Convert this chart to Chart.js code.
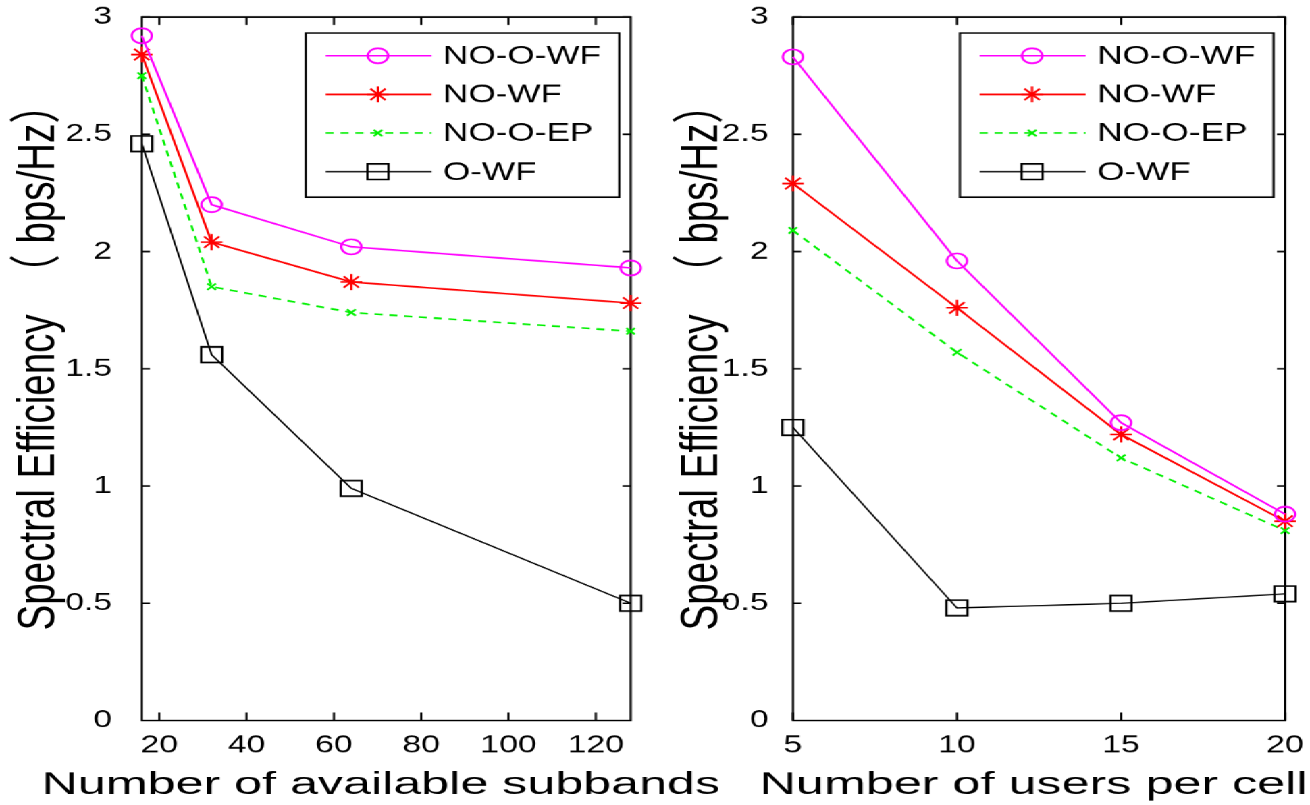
<!DOCTYPE html>
<html lang="en">
<head>
    <meta charset="UTF-8">
    <title>Spectral Efficiency</title>
    <script src="https://cdn.jsdelivr.net/npm/chart.js"></script>
    <style>
      html, body {
        margin: 0;
        padding: 0;
        background: #fff;
        overflow: hidden;
      }
      /* the source figure is stretched sideways, so the whole row is too */
      #row {
        position: relative;
        width: 970px;
        height: 805px;
        transform: scaleX(1.3505);
        transform-origin: 0 0;
      }
      canvas {
        display: block;
        position: absolute;
        top: 0;
      }
    </style>
</head>
<body>
    <div id="row">
        <canvas id="left" width="560" height="805" style="left:0;width:560px;height:805px"></canvas>
        <canvas id="right" width="485" height="805" style="left:485px;width:485px;height:805px"></canvas>
    </div>

    <script>
    const seriesNames = ['NO-O-WF', 'NO-WF', 'NO-O-EP', 'O-WF'];

    // left panel: number of available subbands
    const subbands = [16, 32, 64, 128];
    const subbandTicks = [20, 40, 60, 80, 100, 120];
    const sbNoOWF = [2.92, 2.20, 2.02, 1.93];
    const sbNoWF = [2.84, 2.04, 1.87, 1.78];
    const sbNoOEP = [2.75, 1.85, 1.74, 1.66];
    const sbOWF = [2.46, 1.56, 0.99, 0.50];

    // right panel: number of users per cell
    const users = [5, 10, 15, 20];
    const userTicks = [5, 10, 15, 20];
    const uNoOWF = [2.83, 1.96, 1.27, 0.88];
    const uNoWF = [2.29, 1.76, 1.22, 0.85];
    const uNoOEP = [2.09, 1.57, 1.12, 0.81];
    const uOWF = [1.25, 0.48, 0.50, 0.54];

    const effTicks = [0, 0.5, 1, 1.5, 2, 2.5, 3];
    const yTitle = 'Spectral Efficiency  （ bps/Hz）';

    const FONT = "'Liberation Sans', Arial, 'Noto Sans CJK SC', sans-serif";

    const styles = [
        { color: '#ff00ff', pointStyle: 'circle', radius: 7.5, dash: [] },
        { color: '#ff0000', pointStyle: 'star', radius: 8, dash: [] },
        { color: '#00f000', pointStyle: 'crossRot', radius: 4.5, dash: [6, 5] },
        { color: '#000000', pointStyle: 'rect', radius: 11, dash: [] }
    ];

    function makeDatasets(xs, lists) {
        return lists.map((vals, i) => ({
            label: seriesNames[i],
            data: xs.map((x, k) => ({ x: x, y: vals[k] })),
            borderColor: styles[i].color,
            backgroundColor: 'transparent',
            borderWidth: i === 3 ? 1.3 : 1.7,
            borderDash: styles[i].dash,
            pointStyle: styles[i].pointStyle,
            pointRadius: styles[i].radius,
            pointHoverRadius: styles[i].radius,
            pointBorderWidth: 1.7,
            pointBorderColor: styles[i].color,
            pointBackgroundColor: 'transparent',
            tension: 0,
            clip: false
        }));
    }

    // matlab style box with inward ticks on all four sides
    const boxPlugin = {
        id: 'matlabBox',
        beforeDatasetsDraw(chart) {
            const { ctx, chartArea: a, scales: { x, y } } = chart;
            ctx.save();
            ctx.strokeStyle = '#000';
            ctx.lineWidth = 1.6;
            ctx.strokeRect(a.left, a.top, a.right - a.left, a.bottom - a.top);
            ctx.beginPath();
            x.ticks.forEach(t => {
                const px = x.getPixelForValue(t.value);
                ctx.moveTo(px, a.bottom); ctx.lineTo(px, a.bottom - 8);
                ctx.moveTo(px, a.top); ctx.lineTo(px, a.top + 8);
            });
            y.ticks.forEach(t => {
                const py = y.getPixelForValue(t.value);
                ctx.moveTo(a.left, py); ctx.lineTo(a.left + 6, py);
                ctx.moveTo(a.right, py); ctx.lineTo(a.right - 6, py);
            });
            ctx.stroke();
            ctx.restore();
        }
    };

    // boxed legend with line sample and marker, top right
    const legendPlugin = {
        id: 'boxLegend',
        afterDraw(chart) {
            const { ctx, chartArea: a } = chart;
            const w = 232, h = 164;
            const bx = a.right - 8.5 - w, by = a.top + 16;
            ctx.save();
            ctx.fillStyle = '#fff';
            ctx.fillRect(bx, by, w, h);
            ctx.strokeStyle = '#000';
            ctx.lineWidth = 1.6;
            ctx.strokeRect(bx, by, w, h);
            chart.data.datasets.forEach((ds, i) => {
                const ly = by + 22.7 + i * 38.6;
                ctx.strokeStyle = ds.borderColor;
                ctx.lineWidth = ds.borderWidth;
                ctx.setLineDash(ds.borderDash);
                ctx.beginPath();
                ctx.moveTo(bx + 14.6, ly);
                ctx.lineTo(bx + 93, ly);
                ctx.stroke();
                ctx.setLineDash([]);
                ctx.lineWidth = ds.pointBorderWidth;
                ctx.fillStyle = 'rgba(0,0,0,0)';
                Chart.helpers.drawPoint(ctx, {
                    pointStyle: ds.pointStyle,
                    radius: ds.pointRadius,
                    rotation: 0,
                    borderWidth: ds.pointBorderWidth
                }, bx + 53.4, ly);
                ctx.fillStyle = '#000';
                ctx.font = '26px ' + FONT;
                ctx.textBaseline = 'middle';
                ctx.textAlign = 'left';
                ctx.fillText(ds.label, bx + 101.5, ly + 1);
            });
            ctx.restore();
        }
    };

    // axis titles: the x title is wider than the plot in the source,
    // the y title starts at the bottom and reads upwards
    const titlePlugin = {
        id: 'axisTitles',
        afterDraw(chart, args, opts) {
            const { ctx, chartArea: a } = chart;
            ctx.save();
            ctx.fillStyle = '#000';
            ctx.font = '31px ' + FONT;
            ctx.textAlign = 'center';
            ctx.textBaseline = 'alphabetic';
            ctx.translate((a.left + a.right) / 2 - 4, 793);
            ctx.scale(1.2, 1);
            ctx.fillText(opts.xText, 0, 0);
            ctx.restore();

            ctx.save();
            ctx.fillStyle = '#000';
            ctx.font = '38.5px ' + FONT;
            ctx.textAlign = 'left';
            ctx.textBaseline = 'middle';
            ctx.translate(opts.yX, 630);
            ctx.rotate(-Math.PI / 2);
            ctx.fillText(opts.yText, 0, 0);
            ctx.restore();
        }
    };

    function makeChart(id, xs, lists, xTicks, xMin, xMax, xTitle, yWidth, yTickPad, yTitleX, padRight) {
        const ctx = document.getElementById(id).getContext('2d');
        return new Chart(ctx, {
            type: 'line',
            data: { datasets: makeDatasets(xs, lists) },
            options: {
                responsive: false,
                animation: false,
                devicePixelRatio: 1.35,
                layout: { padding: { top: 17, right: padRight, left: 0, bottom: 0 } },
                plugins: {
                    legend: { display: false },
                    tooltip: { enabled: false },
                    axisTitles: { xText: xTitle, yText: yTitle, yX: yTitleX }
                },
                scales: {
                    x: {
                        type: 'linear',
                        min: xMin,
                        max: xMax,
                        afterBuildTicks: s => { s.ticks = xTicks.map(v => ({ value: v })); },
                        afterFit: s => { s.height = 85; s.paddingLeft = 0; s.paddingRight = 0; },
                        grid: { display: false, drawTicks: false },
                        border: { display: false },
                        ticks: {
                            color: '#000',
                            padding: 10,
                            maxRotation: 0,
                            font: { family: FONT, size: 25 },
                            callback: v => String(v)
                        }
                    },
                    y: {
                        min: 0,
                        max: 3,
                        afterBuildTicks: s => { s.ticks = effTicks.map(v => ({ value: v })); },
                        afterFit: s => { s.width = yWidth; s.paddingTop = 0; s.paddingBottom = 0; },
                        grid: { display: false, drawTicks: false },
                        border: { display: false },
                        ticks: {
                            color: '#000',
                            padding: yTickPad,
                            font: { family: FONT, size: 25 },
                            callback: v => String(v)
                        }
                    }
                }
            },
            plugins: [boxPlugin, legendPlugin, titlePlugin]
        });
    }

    makeChart('left', subbands, [sbNoOWF, sbNoWF, sbNoOEP, sbOWF], subbandTicks, 16, 128,
        'Number of available subbands', 105, 22, 29.5, 93);
    makeChart('right', users, [uNoOWF, uNoWF, uNoOEP, uOWF], userTicks, 5, 20,
        'Number of users per cell', 102, 18, 35, 19);
    </script>
</body>
</html>
